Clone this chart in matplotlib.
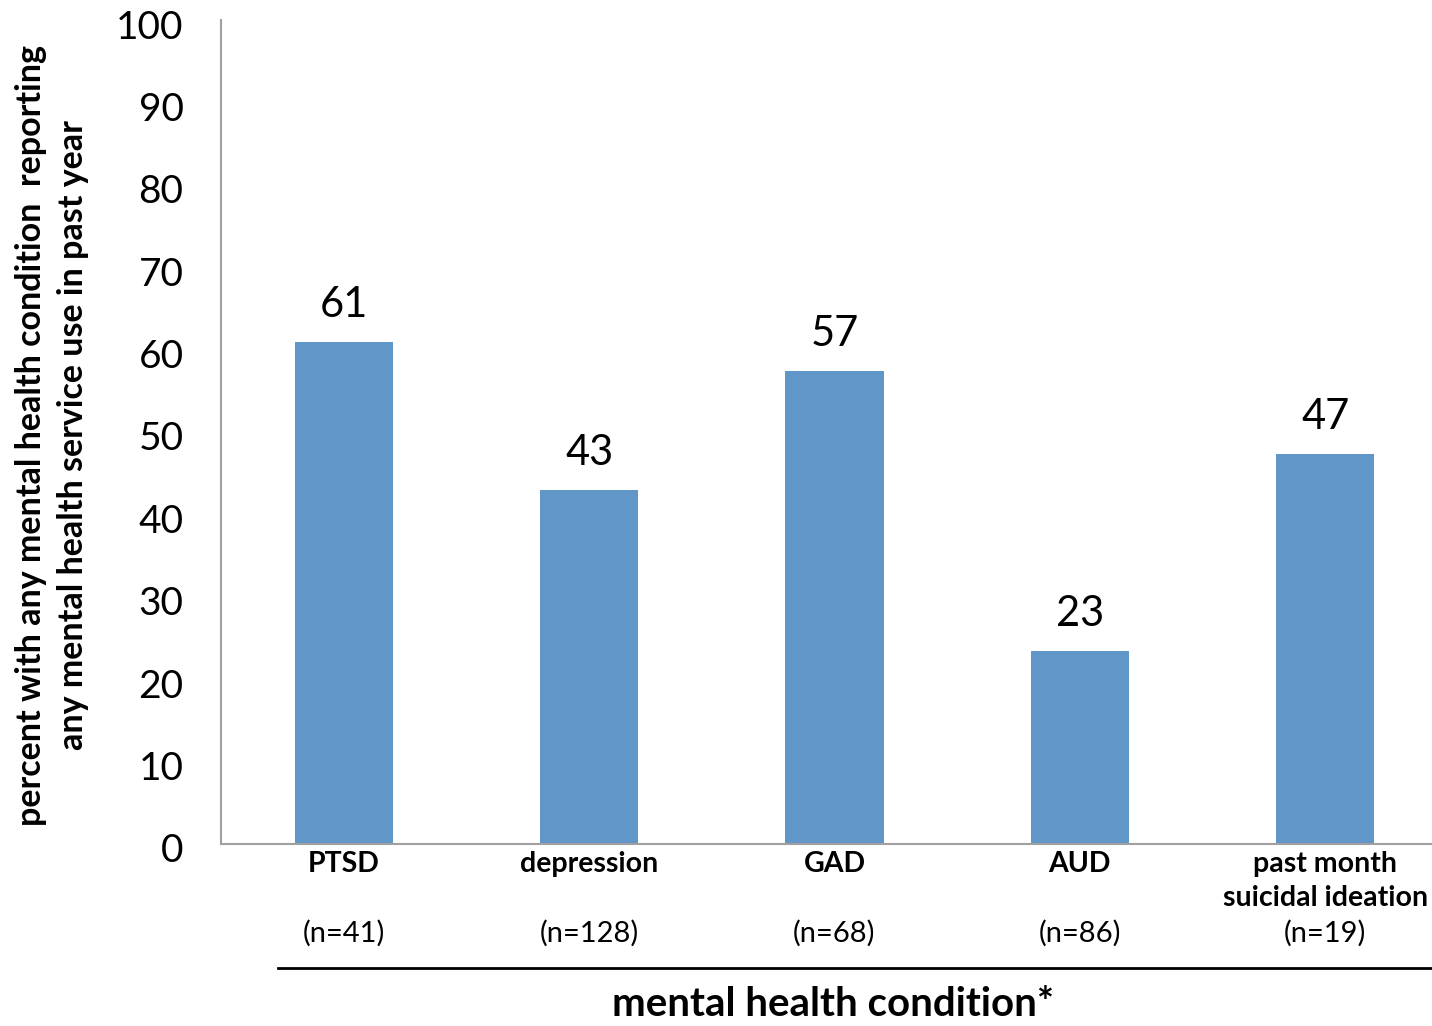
import matplotlib.pyplot as plt
from matplotlib.lines import Line2D
import matplotlib.transforms as mtransforms

plt.rcParams['font.family'] = ['Lato', 'DejaVu Sans']

# 各心理健康狀況的資料
conditions = ['PTSD', 'depression', 'GAD', 'AUD', 'past month\nsuicidal ideation']
n_labels = ['(n=41)', '(n=128)', '(n=68)', '(n=86)', '(n=19)']
percents = [60.9, 43.0, 57.4, 23.4, 47.3]
value_labels = ['61', '43', '57', '23', '47']

if __name__ == '__main__':
    fig = plt.figure(figsize=(14.32, 10.26), dpi=100)
    ax = fig.add_axes([221 / 1432, 182 / 1026, 1227 / 1432, 824 / 1026])

    x = list(range(len(conditions)))
    bars = ax.bar(x, percents, width=0.4, color='#6096C8')

    # 數值標籤
    for b, lab in zip(bars, value_labels):
        ax.text(b.get_x() + b.get_width() / 2, b.get_height() + 2.2, lab,
                ha='center', va='bottom', fontsize=30)

    ax.set_xlim(-0.5, 4.5)
    ax.set_ylim(0, 100)
    ax.set_yticks(range(0, 101, 10))
    ax.tick_params(axis='y', length=0, labelsize=28, pad=27)
    ax.set_xticks([])
    # 刻度文字稍微往下移
    shift = mtransforms.ScaledTranslation(0, -4 / 100, fig.dpi_scale_trans)
    for t in ax.get_yticklabels():
        t.set_transform(t.get_transform() + shift)

    for s in ['top', 'right']:
        ax.spines[s].set_visible(False)
    for s in ['left', 'bottom']:
        ax.spines[s].set_color('#A0A0A0')
        ax.spines[s].set_linewidth(1.5)

    # 類別名稱與樣本數
    trans = mtransforms.blended_transform_factory(ax.transData, fig.transFigure)
    for i, (c, n) in enumerate(zip(conditions, n_labels)):
        ax.text(i, 1 - 851 / 1026, c, transform=trans, ha='center', va='top',
                fontsize=20.5, fontweight='bold', linespacing=1.4)
        ax.text(i, 1 - 933 / 1026, n, transform=trans, ha='center', va='center',
                fontsize=21)

    fig.add_artist(Line2D([278 / 1432, 1.0], [1 - 968 / 1026] * 2,
                          transform=fig.transFigure, color='black', lw=2))

    fig.text(833 / 1432, 1 - 1005 / 1026, 'mental health condition*',
             ha='center', va='center', fontsize=29, fontweight='bold')

    fig.text(52 / 1432, 1 - 435 / 1026,
             'percent with any mental health condition  reporting\n'
             'any mental health service use in past year',
             ha='center', va='center', rotation=90, fontsize=24.5,
             fontweight='bold', linespacing=1.35)

    fig.savefig('out.png', dpi=100)
